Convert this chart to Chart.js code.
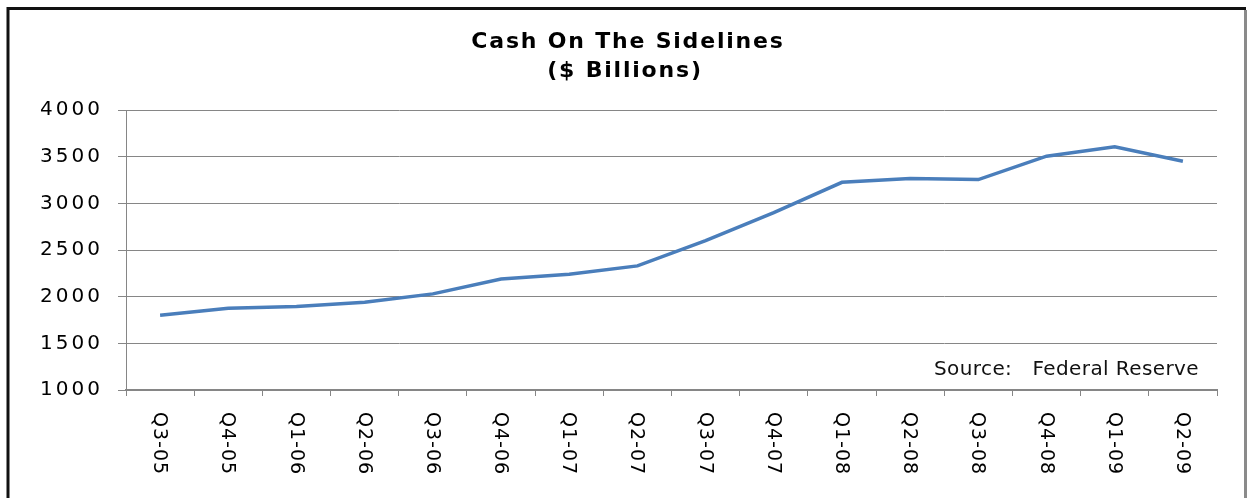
<!DOCTYPE html>
<html lang="en">
<head>
  <meta charset="UTF-8" />
  <title>Cash On The Sidelines</title>
  <script src="https://cdn.jsdelivr.net/npm/chart.js@4.4.1/dist/chart.umd.min.js"></script>
  <style>
    html, body {
      margin: 0;
      padding: 0;
      background: #fff;
    }
    canvas {
      display: block;
    }
  </style>
</head>
<body>
  <canvas id="cashChart" width="1248" height="498"></canvas>

  <script>
    // --- Data ---
    const quarters = ['Q3-05', 'Q4-05', 'Q1-06', 'Q2-06', 'Q3-06', 'Q4-06', 'Q1-07', 'Q2-07',
                      'Q3-07', 'Q4-07', 'Q1-08', 'Q2-08', 'Q3-08', 'Q4-08', 'Q1-09', 'Q2-09'];
    const cashBillions = [1800, 1875, 1895, 1940, 2030, 2190, 2240, 2330,
                          2600, 2900, 3225, 3265, 3255, 3505, 3605, 3450];
    const yTicks = [1000, 1500, 2000, 2500, 3000, 3500, 4000];
    const titleLines = ['Cash On The Sidelines', '($ Billions)'];
    const sourceNote = 'Source:   Federal Reserve';

    const FONT = '"DejaVu Sans", Verdana, sans-serif';
    const gridGray = '#868686';

    // wider letter spacing for the y labels (the original looks stretched)
    const spacing = {
      id: 'spacing',
      beforeDraw(chart) {
        chart.ctx.letterSpacing = '3px';
      },
      afterDraw(chart) {
        chart.ctx.letterSpacing = '0px';
      }
    };

    // x labels read top to bottom (rotated clockwise)
    const xLabels = {
      id: 'xLabels',
      afterDraw(chart) {
        const ctx = chart.ctx;
        const x = chart.scales.x;
        ctx.save();
        ctx.letterSpacing = '1px';
        ctx.font = '19px ' + FONT;
        ctx.fillStyle = '#000';
        ctx.textAlign = 'left';
        ctx.textBaseline = 'middle';
        quarters.forEach((q, i) => {
          ctx.save();
          ctx.translate(x.getPixelForTick(i) - 1, chart.chartArea.bottom + 22);
          ctx.rotate(Math.PI / 2);
          ctx.fillText(q, 0, 0);
          ctx.restore();
        });
        ctx.restore();
      }
    };

    // title, source note and frame
    const extras = {
      id: 'extras',
      afterDraw(chart) {
        const ctx = chart.ctx;
        ctx.save();
        ctx.fillStyle = '#000';
        ctx.font = 'bold 22px ' + FONT;
        ctx.letterSpacing = '1.8px';
        ctx.textAlign = 'center';
        ctx.textBaseline = 'alphabetic';
        ctx.fillText(titleLines[0], 628, 48);
        ctx.fillText(titleLines[1], 625, 77);

        ctx.font = '20px ' + FONT;
        ctx.letterSpacing = '0.4px';
        ctx.fillStyle = '#111';
        ctx.textAlign = 'right';
        ctx.fillText(sourceNote, 1199, 375);

        // frame
        ctx.letterSpacing = '0px';
        ctx.lineWidth = 3;
        ctx.strokeStyle = '#111';
        ctx.beginPath();
        ctx.moveTo(8, 498);
        ctx.lineTo(8, 8.5);
        ctx.lineTo(1246, 8.5);
        ctx.stroke();
        ctx.strokeStyle = '#8a8a8a';
        ctx.beginPath();
        ctx.moveTo(1245.5, 10);
        ctx.lineTo(1245.5, 498);
        ctx.stroke();
        ctx.restore();
      }
    };

    new Chart(document.getElementById('cashChart'), {
      type: 'line',
      data: {
        labels: quarters,
        datasets: [{
          label: 'Cash on the sidelines',
          data: cashBillions,
          borderColor: '#4a7ebb',
          borderWidth: 3.5,
          pointRadius: 0,
          tension: 0,
          fill: false
        }]
      },
      options: {
        responsive: false,
        animation: false,
        layout: {
          padding: { top: 110, right: 31, bottom: 0, left: 0 }
        },
        plugins: {
          legend: { display: false },
          title: { display: false },
          tooltip: { enabled: false }
        },
        scales: {
          x: {
            type: 'category',
            offset: true,
            grid: {
              offset: true,
              drawOnChartArea: false,
              drawTicks: true,
              tickLength: 6,
              color: gridGray,
              lineWidth: 1
            },
            border: { display: true, color: gridGray, width: 2 },
            ticks: { display: false },
            afterFit(scale) {
              scale.height = 108;
            }
          },
          y: {
            min: 1000,
            max: 4000,
            afterBuildTicks(scale) {
              scale.ticks = yTicks.map(v => ({ value: v }));
            },
            grid: {
              color: gridGray,
              lineWidth: 1,
              tickLength: 8
            },
            border: { display: true, color: gridGray, width: 1 },
            ticks: {
              font: { family: FONT, size: 20 },
              color: '#000',
              padding: 15,
              callback: v => String(v)
            },
            afterFit(scale) {
              scale.width = 126;
            }
          }
        }
      },
      plugins: [spacing, xLabels, extras]
    });
  </script>
</body>
</html>
